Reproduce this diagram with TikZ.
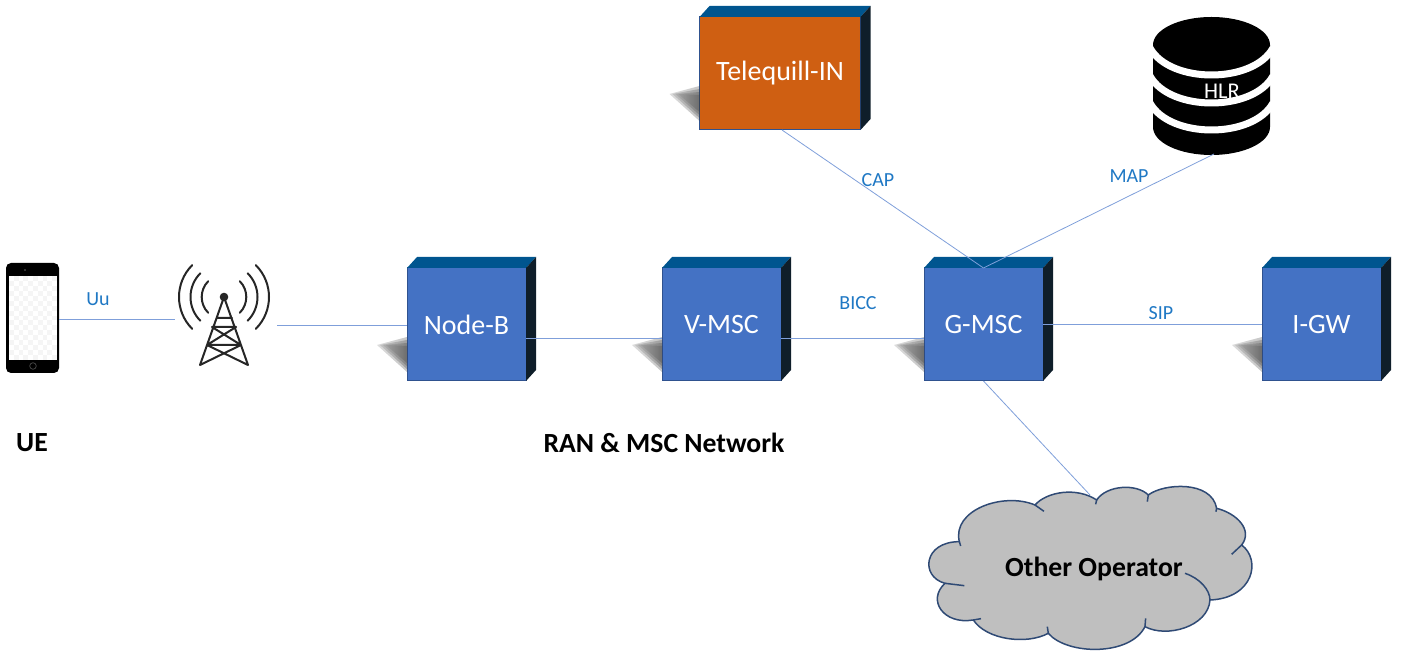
\documentclass[tikz,border=0pt]{standalone}
\usepackage{fontspec}
\setmainfont{Carlito}
\usetikzlibrary{positioning}
\definecolor{facecol}{HTML}{4472C4}
\definecolor{edgecol}{HTML}{2F528F}
\definecolor{topcol}{HTML}{00558F}
\definecolor{sidecol}{HTML}{0F1E2A}
\definecolor{orangecol}{HTML}{CF5F12}
\definecolor{linkcol}{HTML}{7F9FDA}
\definecolor{lblcol}{HTML}{1F78C4}
\definecolor{cloudcol}{HTML}{BFBFBF}
\definecolor{clouddraw}{HTML}{2F4A75}

\begin{document}
\begin{tikzpicture}
    [x=1pt,y=-1pt,
     cube/.style={outer sep=0,fill=facecol,draw=edgecol,line width=1pt,text=white,
                  minimum width=119pt,minimum height=113pt,font=\fontsize{28}{32}\selectfont},
     incube/.style={cube,fill=orangecol,minimum width=161pt},
     link/.style={draw=linkcol,line width=.8pt},
     lbl/.style={text=lblcol,inner sep=0,font=\fontsize{20}{24}\selectfont},
     title/.style={text=black,inner sep=0,font=\fontsize{27.7}{32}\selectfont\bfseries},
     mast/.style={draw=black!85,line width=2pt,line cap=round}]
    \def\cubefaces#1{
      \foreach \s in {0,3,6,9}
        \fill[left color=white,right color=black!55,opacity=.16]
          ([shift={(-30+\s,-36)}]#1.south west) -- ([shift={(0,-44+\s)}]#1.south west)
          -- ([shift={(0,-9-\s)}]#1.south west) -- cycle;
      \fill[topcol] (#1.north west) -- ([shift={(10,-11)}]#1.north west)
        -- ([shift={(10,-11)}]#1.north east) -- (#1.north east) -- cycle;
      \fill[sidecol] (#1.north east) -- ([shift={(10,-11)}]#1.north east)
        -- ([shift={(10,-11)}]#1.south east) -- (#1.south east) -- cycle;
    }
    \useasboundingbox (0,0) rectangle (1401,652);

    % boxes
    \node[cube] (nodeb) at (466.5,324.5) {Node-B};
    \node[cube,right=136pt of nodeb] (vmsc) {V-MSC};
    \node[cube,right=143pt of vmsc] (gmsc) {G-MSC};
    \node[cube,right=219pt of gmsc] (igw) {I-GW};
    \node[incube] (in) at (780,73.5) {Telequill-IN};
    \foreach \n in {nodeb,vmsc,gmsc,igw,in} {\cubefaces{\n}}

    % phone
    \node[outer sep=0,inner sep=0,minimum width=53pt,minimum height=110pt,
          fill=black,rounded corners=5pt] (ue) at (32.5,318) {};
    \fill[black!4] (9,276) rectangle (57,360);
    \foreach \i in {0,...,9} \foreach \j in {0,...,16} {
      \pgfmathparse{int(mod(\i+\j,2))}
      \ifnum\pgfmathresult=0 \fill[white] (9+4.8*\i,276+4.94*\j) rectangle +(4.8,4.94); \fi
    }
    \draw[black!70,line width=.7pt] (33,366) circle (3.3);
    \fill[black!60] (25,270) circle (.8);

    % tower
    \node[minimum width=102pt,minimum height=110pt,outer sep=0,inner sep=0] (mast) at (226,319) {};
    \fill[black!85] (224,297) circle (4.3);
    \foreach \r in {22.3,33.5,45} {
      \draw[mast] (224,297) ++(135:\r) arc (135:225:\r);
      \draw[mast] (224,297) ++(-45:\r) arc (-45:45:\r);
    }
    \draw[mast] (224,297) -- (200,365) (224,297) -- (248,365)
      (217,318) -- (232,318) (212,327) -- (236,327)
      (212,327) -- (241,345) (236,327) -- (207,345)
      (207,345) -- (241,345)
      (207,345) -- (248,365) (241,345) -- (200,365);

    % database
    \node[minimum width=117pt,minimum height=138pt,outer sep=0,inner sep=0] (hlr) at (1211.5,86) {};
    \fill[black] (1153,45) -- (1153,127) arc (180:0:58.5 and 28) -- (1270,45) -- cycle;
    \fill[black] (1211.5,45) ellipse (58.5 and 28);
    \foreach \d in {48,76,103}
      \draw[white,line width=7pt] (1150,\d) .. controls (1170,{\d+36}) and (1253,{\d+36}) .. (1273,\d);
    \node[text=white,inner sep=0,font=\fontsize{22.5}{26}\selectfont] (hlrtext) at (1222,91) {HLR};

    % cloud
    \begin{scope}[shift={(900,470)},x=.3333pt,y=-.3333pt]
      \fill[cloudcol,draw=clouddraw,line width=1.5pt] (405,105)
        .. controls (440,65) and (530,50) .. (590,90)
        .. controls (620,45) and (710,40) .. (745,75)
        .. controls (790,40) and (935,30) .. (950,115)
        .. controls (1010,130) and (1060,180) .. (1025,225)
        .. controls (1085,270) and (1060,385) .. (930,390)
        .. controls (925,470) and (800,505) .. (735,470)
        .. controls (690,560) and (500,555) .. (445,490)
        .. controls (380,525) and (260,510) .. (220,450)
        .. controls (130,465) and (80,390) .. (135,340)
        .. controls (60,320) and (70,215) .. (178,215)
        .. controls (155,120) and (310,65) .. (405,105) -- cycle;
      \draw[clouddraw,line width=1.5pt] (405,105) -- (432,124) (590,90) -- (587,103)
        (745,75) -- (742,95) (950,115) -- (948,125) (1025,225) -- (995,253)
        (930,390) .. controls (930,360) and (900,325) .. (855,310)
        (735,470) -- (737,445) (445,490) -- (442,470) (220,450) -- (243,446)
        (135,340) -- (193,347) (178,215) -- (182,228);
    \end{scope}
    \node[title] (cloud) at (1094,569) {Other Operator};
    \coordinate (cloudtop) at (1090,495);

    % links
    \draw[link] ([yshift=-1]ue.east) -- (mast.west);
    \draw[link] ([yshift=-6]mast.east) -- ([yshift=-.5]nodeb.west);
    \draw[link] ([yshift=-13.5]nodeb.east) -- ([yshift=-13.5]vmsc.west);
    \draw[link] ([yshift=-13.5]vmsc.east) -- ([yshift=-13.5]gmsc.west);
    \draw[link] (gmsc.east) -- (igw.west);
    \draw[link] (in.south) ++(2,0) -- (gmsc.north);
    \draw[link] (hlr.south) ++(2.5,-1) -- (gmsc.north);
    \draw[link] (gmsc.south) -- (cloudtop);

    % labels
    \node[lbl] (uu) at (98,299) {Uu};
    \node[lbl] (bicc) at (858,303) {BICC};
    \node[lbl] (sip) at (1161,313) {SIP};
    \node[lbl] (cap) at (878,180) {CAP};
    \node[lbl] (map) at (1129,176) {MAP};
    \node[title] (uelbl) at (32,443) {UE};
    \node[title] (ran) at (664,443) {RAN \& MSC Network};
  \end{tikzpicture}
\end{document}
